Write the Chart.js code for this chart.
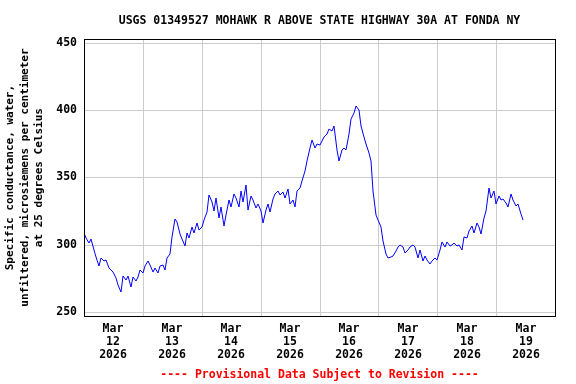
<!DOCTYPE html>
<html>
<head>
<meta charset="utf-8">
<script src="https://cdn.jsdelivr.net/npm/chart.js@4.4.1/dist/chart.umd.min.js"></script>
<style>
  html, body { margin: 0; padding: 0; background: #fff; }
  canvas { display: block; }
</style>
</head>
<body>
<canvas id="grafico" width="576" height="384"></canvas>
<script>
// hourly readings (uS/cm at 25 C), one array per day, hour 0 = midnight
const mar12 = [309, 305, 301, 304, 296, 291, 284, 290, 288, 289, 283, 281, 280, 275, 270, 265, 277, 274, 277, 269, 276, 273, 276, 281];
const mar13 = [279, 284, 288, 285, 280, 283, 279, 284, 285, 281, 290, 293, 306, 319, 317, 308, 304, 299, 309, 305, 313, 309, 316, 311];
const mar14 = [313, 318, 324, 337, 332, 325, 335, 320, 328, 314, 322, 333, 328, 338, 335, 328, 340, 332, 344, 326, 336, 333, 327, 330];
const mar15 = [325, 316, 326, 330, 324, 334, 338, 340, 337, 339, 335, 341, 330, 333, 328, 340, 342, 347, 355, 362, 372, 378, 372, 375];
const mar16 = [374, 377, 380, 382, 386, 384, 388, 370, 362, 370, 372, 370, 382, 393, 398, 403, 400, 388, 380, 375, 368, 362, 340, 322];
const mar17 = [318, 313, 303, 293, 290, 291, 292, 295, 298, 300, 298, 294, 296, 298, 300, 298, 290, 296, 288, 292, 289, 286, 288, 290];
const mar18 = [289, 296, 302, 298, 302, 299, 300, 301, 299, 300, 296, 306, 305, 310, 314, 309, 316, 313, 308, 320, 325, 342, 335, 340];
const mar19 = [330, 336, 333, 334, 331, 328, 338, 333, 329, 330, 323, 318];

const days = [mar12, mar13, mar14, mar15, mar16, mar17, mar18, mar19];
const dayLabels = ['12', '13', '14', '15', '16', '17', '18', '19'];
const monthLabel = 'Mar';
const yearLabel = '2026';
const yTicks = [250, 300, 350, 400, 450];
const xTickHours = [0, 12, 24, 36, 48, 60, 72, 84, 96, 108, 120, 132, 144, 156, 168, 180, 192];

const points = [];
days.forEach((vals, d) => {
  vals.forEach((v, h) => points.push({ x: d * 24 + h, y: v }));
});

const mono = 'DejaVu Sans Mono';

// black box around the plot
const frame = {
  id: 'frame',
  afterDraw(chart) {
    const { ctx, chartArea: a } = chart;
    ctx.save();
    ctx.strokeStyle = '#000';
    ctx.lineWidth = 1;
    ctx.strokeRect(Math.round(a.left) + 0.5, Math.round(a.top) + 0.5,
      Math.round(a.right - a.left), Math.round(a.bottom - a.top));
    ctx.restore();
  }
};

new Chart(document.getElementById('grafico'), {
  type: 'line',
  data: {
    datasets: [{
      data: points,
      borderColor: '#0000ff',
      borderWidth: 1,
      pointRadius: 0,
      tension: 0,
      fill: false
    }]
  },
  options: {
    responsive: false,
    animation: false,
    layout: { padding: { left: 0, right: 21, top: 0, bottom: 0 } },
    plugins: {
      legend: { display: false },
      tooltip: { enabled: false },
      title: {
        display: true,
        fullSize: false,
        text: 'USGS 01349527 MOHAWK R ABOVE STATE HIGHWAY 30A AT FONDA NY',
        color: '#000',
        font: { family: mono, size: 11.5, weight: 'bold', lineHeight: 1.2 },
        padding: { top: 14, bottom: 11.2 }
      },
      subtitle: {
        display: true,
        position: 'bottom',
        fullSize: false,
        text: '---- Provisional Data Subject to Revision ----',
        color: '#ff0000',
        font: { family: mono, size: 11.5, weight: 'bold', lineHeight: 1.2 },
        padding: { top: 2, bottom: 2 }
      }
    },
    scales: {
      x: {
        type: 'linear',
        min: 0,
        max: 192,
        alignToPixels: true,
        afterBuildTicks: (scale) => {
          scale.ticks = xTickHours.map(v => ({ value: v }));
        },
        afterFit: (scale) => { scale.height = 50; },
        grid: {
          drawTicks: false,
          lineWidth: 1,
          color: (c) => (c.tick && c.tick.value % 24 === 0) ? '#cccccc' : 'rgba(0,0,0,0)'
        },
        border: { display: false },
        ticks: {
          autoSkip: false,
          maxRotation: 0,
          padding: 6,
          color: '#000',
          font: { family: mono, size: 11.5, weight: 'bold', lineHeight: 1.13 },
          callback: (v) => {
            if (v % 24 !== 12) return '';
            return [monthLabel, dayLabels[(v - 12) / 24], yearLabel];
          }
        }
      },
      y: {
        min: 247,
        max: 452.6,
        alignToPixels: true,
        afterBuildTicks: (scale) => {
          scale.ticks = yTicks.map(v => ({ value: v }));
        },
        afterFit: (scale) => { scale.width = 84; },
        grid: { drawTicks: false, color: '#cccccc', lineWidth: 1 },
        border: { display: false },
        ticks: {
          padding: 7,
          color: '#000',
          font: { family: mono, size: 11.5, weight: 'bold' }
        },
        title: {
          display: true,
          text: ['Specific conductance, water,', 'unfiltered, microsiemens per centimeter', 'at 25 degrees Celsius'],
          color: '#000',
          font: { family: mono, size: 11, weight: 'bold', lineHeight: '14.5px' },
          padding: { top: 3.25, bottom: 0 }
        }
      }
    }
  },
  plugins: [frame]
});
</script>
</body>
</html>
